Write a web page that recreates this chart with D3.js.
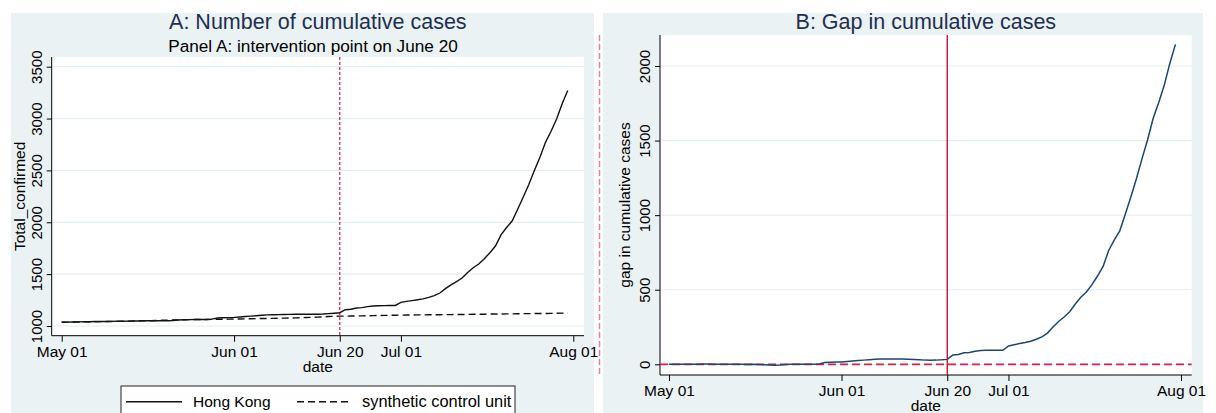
<!DOCTYPE html>
<html>
<head>
<meta charset="utf-8">
<script src="https://cdn.jsdelivr.net/npm/d3@7"></script>
<style>
  body { margin: 0; background: #fff; }
  svg { display: block; font-family: "Liberation Sans", Arial, sans-serif; }
</style>
</head>
<body>
<div class="diagram-canvas"></div>
<script>
// daily dates, May 01 - Jul 31
let dates = [
  "2020-05-01","2020-05-02","2020-05-03","2020-05-04","2020-05-05","2020-05-06","2020-05-07","2020-05-08","2020-05-09","2020-05-10",
  "2020-05-11","2020-05-12","2020-05-13","2020-05-14","2020-05-15","2020-05-16","2020-05-17","2020-05-18","2020-05-19","2020-05-20",
  "2020-05-21","2020-05-22","2020-05-23","2020-05-24","2020-05-25","2020-05-26","2020-05-27","2020-05-28","2020-05-29","2020-05-30","2020-05-31",
  "2020-06-01","2020-06-02","2020-06-03","2020-06-04","2020-06-05","2020-06-06","2020-06-07","2020-06-08","2020-06-09","2020-06-10",
  "2020-06-11","2020-06-12","2020-06-13","2020-06-14","2020-06-15","2020-06-16","2020-06-17","2020-06-18","2020-06-19","2020-06-20",
  "2020-06-21","2020-06-22","2020-06-23","2020-06-24","2020-06-25","2020-06-26","2020-06-27","2020-06-28","2020-06-29","2020-06-30",
  "2020-07-01","2020-07-02","2020-07-03","2020-07-04","2020-07-05","2020-07-06","2020-07-07","2020-07-08","2020-07-09","2020-07-10",
  "2020-07-11","2020-07-12","2020-07-13","2020-07-14","2020-07-15","2020-07-16","2020-07-17","2020-07-18","2020-07-19","2020-07-20",
  "2020-07-21","2020-07-22","2020-07-23","2020-07-24","2020-07-25","2020-07-26","2020-07-27","2020-07-28","2020-07-29","2020-07-30","2020-07-31"
];

let hongKong = [
  1036,1037,1038,1040,1041,1041,1043,1044,1044,1045,1046,1046,1047,1048,1048,1050,1050,1050,1050,1050,1053,1058,1060,1061,1062,1062,1063,1066,1077,1079,1081,
  1083,1087,1091,1095,1099,1103,1107,1109,1110,1111,1112,1113,1114,1114,1114,1114,1115,1119,1123,1128,1157,1162,1174,1177,1187,1193,1195,1196,1197,1198,
  1228,1237,1245,1253,1262,1276,1292,1318,1360,1397,1428,1463,1516,1562,1598,1648,1707,1771,1879,1950,2012,2125,2243,2365,2499,2627,2771,2877,2995,3143,3270
];

let synthetic = [
  1036,1037,1038,1039,1040,1040,1041,1042,1043,1044,1045,1046,1047,1048,1049,1050,1051,1053,1055,1057,1058,1059,1060,1061,1062,1062,1063,1064,1065,1065,1066,
  1067,1068,1069,1070,1071,1072,1073,1074,1075,1076,1077,1078,1080,1082,1084,1086,1088,1091,1093,1095,1095,1096,1097,1098,1099,1100,1101,1102,1103,1104,
  1105,1106,1106,1107,1107,1108,1108,1109,1110,1110,1111,1111,1112,1113,1113,1114,1115,1115,1116,1117,1117,1118,1119,1119,1120,1121,1121,1122,1123,1124,1125
];

let gap = [
  0,0,0,1,1,1,2,2,1,1,1,0,0,0,-1,0,-1,-3,-5,-7,-5,-1,0,0,0,0,0,2,12,14,15,
  16,19,22,25,28,31,34,35,35,35,35,35,34,32,30,28,27,28,30,33,62,66,77,79,88,93,94,94,94,94,
  123,131,139,146,155,168,184,209,250,287,317,352,404,449,485,534,592,656,763,833,895,1007,1124,1246,1379,1506,1650,1755,1872,2019,2145
];

let xTickDates = ["2020-05-01", "2020-06-01", "2020-06-20", "2020-07-01", "2020-08-01"];
let xTickLabels = ["May 01", "Jun 01", "Jun 20", "Jul 01", "Aug 01"];
let yTicksA = [1000, 1500, 2000, 2500, 3000, 3500];
let yTicksB = [0, 500, 1000, 1500, 2000];
let interventionDate = "2020-06-20";

let parse = d3.utcParse("%Y-%m-%d");
let bg = "#eaf2f3",
  grid = "#e4edf0",
  navy = "#1e2f52";

let svg = d3
  .select(".diagram-canvas")
  .append("svg")
  .attr("width", 1216)
  .attr("height", 413);

// panel backgrounds
svg.append("rect").attr("x", 11).attr("y", 13).attr("width", 583).attr("height", 400).attr("fill", bg);
svg.append("rect").attr("x", 603).attr("y", 13).attr("width", 600).attr("height", 400).attr("fill", bg);

// divider between the two graphs
svg
  .append("line")
  .attr("x1", 599.5).attr("x2", 599.5)
  .attr("y1", 35).attr("y2", 376)
  .attr("stroke", "#e67f9c")
  .attr("stroke-width", 1.5)
  .attr("stroke-dasharray", "6,3");

function panel(opt) {
  let g = svg.append("g");

  let x = d3
    .scaleUtc()
    .domain([parse("2020-05-01"), parse("2020-08-01")])
    .range(opt.xRange);
  let y = d3.scaleLinear().domain(opt.yDomain).range(opt.yRange);

  g.append("rect")
    .attr("x", opt.left).attr("y", opt.top)
    .attr("width", opt.right - opt.left).attr("height", opt.bottom - opt.top)
    .attr("fill", "#fff");

  // gridlines
  g.selectAll(".grid")
    .data(opt.yTicks)
    .enter()
    .append("line")
    .attr("x1", opt.left + 1).attr("x2", opt.right)
    .attr("y1", (d) => y(d)).attr("y2", (d) => y(d))
    .attr("stroke", grid)
    .attr("stroke-width", 1.2);

  let yAxis = d3
    .axisLeft(y)
    .tickValues(opt.yTicks)
    .tickSize(5)
    .tickSizeOuter(0)
    .tickFormat(d3.format("d"));
  let ya = g.append("g").attr("transform", "translate(" + opt.left + ",0)").call(yAxis);
  ya.select(".domain").attr("d", "M0," + opt.top + "V" + opt.bottom).attr("stroke", "#000");
  ya.selectAll(".tick line").attr("stroke", "#000");
  ya.selectAll(".tick text")
    .attr("x", null).attr("dy", null)
    .attr("transform", "translate(-10,0) rotate(-90)")
    .attr("text-anchor", "middle")
    .attr("font-size", 15)
    .attr("font-family", "Liberation Sans, Arial, sans-serif")
    .attr("fill", "#000");

  let xAxis = d3
    .axisBottom(x)
    .tickValues(xTickDates.map(parse))
    .tickSize(6)
    .tickSizeOuter(0)
    .tickFormat((d, i) => xTickLabels[i]);
  let xa = g.append("g").attr("transform", "translate(0," + opt.bottom + ")").call(xAxis);
  xa.select(".domain").attr("d", "M" + opt.left + ",0H" + opt.right).attr("stroke", "#000");
  xa.selectAll(".tick line").attr("stroke", "#000");
  xa.selectAll(".tick text")
    .attr("y", 21).attr("dy", null)
    .attr("font-size", 15.5)
    .attr("font-family", "Liberation Sans, Arial, sans-serif")
    .attr("fill", "#000");

  g.append("text")
    .attr("x", (opt.left + opt.right) / 2)
    .attr("y", opt.bottom + 36)
    .attr("text-anchor", "middle")
    .attr("font-size", 15.5)
    .text("date");

  g.append("text")
    .attr("transform", "translate(" + opt.yTitleX + "," + (opt.top + opt.bottom) / 2 + ") rotate(-90)")
    .attr("text-anchor", "middle")
    .attr("font-size", 15.5)
    .text(opt.yTitle);

  g.append("text")
    .attr("x", (opt.left + opt.right) / 2)
    .attr("y", 29)
    .attr("text-anchor", "middle")
    .attr("font-size", 21.5)
    .attr("fill", navy)
    .text(opt.title);

  return { g: g, x: x, y: y };
}

// ---- A: cumulative cases
let a = panel({
  left: 51.7, right: 584, top: 57, bottom: 335.7,
  xRange: [61.7, 573.3],
  yDomain: [1000, 3500], yRange: [326, 66.7],
  yTicks: yTicksA,
  yTitle: "Total_confirmed", yTitleX: 24.5,
  title: "A: Number of cumulative cases"
});

a.g.append("text")
  .attr("x", 313)
  .attr("y", 51.5)
  .attr("text-anchor", "middle")
  .attr("font-size", 17.2)
  .text("Panel A: intervention point on June 20");

a.g.append("line")
  .attr("x1", a.x(parse(interventionDate))).attr("x2", a.x(parse(interventionDate)))
  .attr("y1", 57).attr("y2", 335.7)
  .attr("stroke", "#d83a66")
  .attr("stroke-width", 1.4)
  .attr("stroke-dasharray", "3,2");

let lineA = (vals) =>
  d3
    .line()
    .x((d, i) => a.x(parse(dates[i])))
    .y((d) => a.y(d))(vals);

a.g.append("path").attr("d", lineA(synthetic)).attr("fill", "none")
  .attr("stroke", "#111").attr("stroke-width", 1.4).attr("stroke-dasharray", "7,4");
a.g.append("path").attr("d", lineA(hongKong)).attr("fill", "none")
  .attr("stroke", "#111").attr("stroke-width", 1.4);

// legend
let lg = a.g.append("g");
lg.append("rect").attr("x", 121).attr("y", 386).attr("width", 394).attr("height", 34)
  .attr("fill", "#fff").attr("stroke", "#222").attr("stroke-width", 1);
lg.append("line").attr("x1", 126).attr("x2", 182).attr("y1", 401.7).attr("y2", 401.7)
  .attr("stroke", "#111").attr("stroke-width", 1.4);
lg.append("text").attr("x", 193).attr("y", 407).attr("font-size", 15.5).text("Hong Kong");
lg.append("line").attr("x1", 297).attr("x2", 352).attr("y1", 401.7).attr("y2", 401.7)
  .attr("stroke", "#111").attr("stroke-width", 1.4).attr("stroke-dasharray", "7,4");
lg.append("text").attr("x", 362).attr("y", 407).attr("font-size", 16.4).text("synthetic control unit");

// ---- B: gap
let b = panel({
  left: 660, right: 1191.7, top: 35, bottom: 375,
  xRange: [669, 1181],
  yDomain: [0, 2000], yRange: [364.3, 66],
  yTicks: yTicksB,
  yTitle: "gap in cumulative cases", yTitleX: 630,
  title: "B: Gap in cumulative cases"
});

b.g.append("line")
  .attr("x1", 660).attr("x2", 1191.7)
  .attr("y1", b.y(0)).attr("y2", b.y(0))
  .attr("stroke", "#d6204f")
  .attr("stroke-width", 1.8)
  .attr("stroke-dasharray", "8,4");

b.g.append("line")
  .attr("x1", b.x(parse(interventionDate))).attr("x2", b.x(parse(interventionDate)))
  .attr("y1", 35).attr("y2", 375)
  .attr("stroke", "#c8102e")
  .attr("stroke-width", 1.4);

b.g.append("path")
  .attr("d", d3.line().x((d, i) => b.x(parse(dates[i]))).y((d) => b.y(d))(gap))
  .attr("fill", "none")
  .attr("stroke", "#1a476f")
  .attr("stroke-width", 1.5);
</script>
</body>
</html>
